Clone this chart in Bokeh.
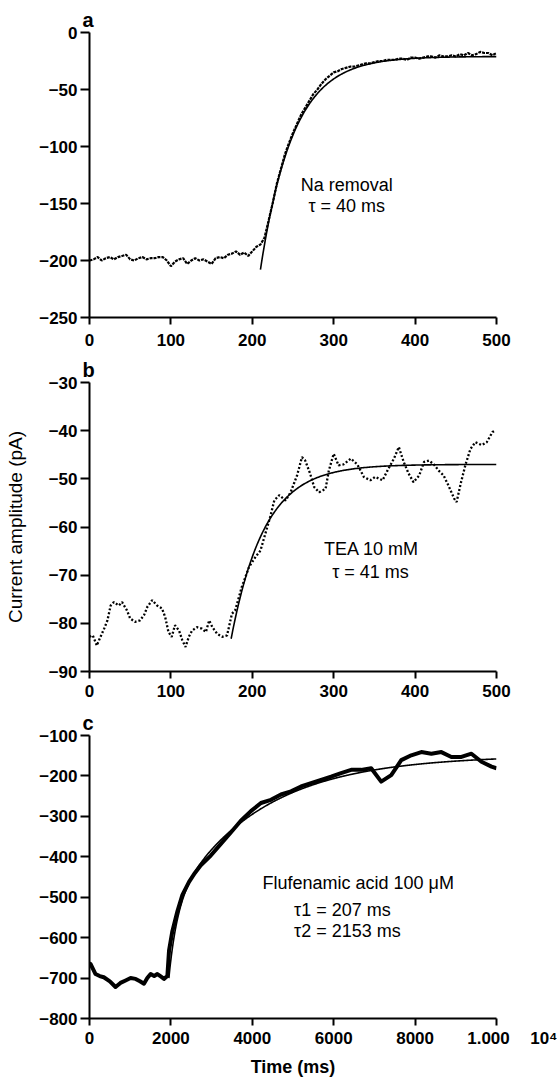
from math import exp

from bokeh.embed import file_html
from bokeh.layouts import column
from bokeh.models import FixedTicker, Label, Range1d
from bokeh.plotting import figure
from bokeh.resources import INLINE

# ---- Panel a: Na removal (time in ms, current in pA) ----
a_time = list(range(0, 505, 5))
a_current = [
    -200, -199, -197, -200, -198, -197, -199, -197, -196, -195,
    -199, -200, -198, -197, -199, -198, -198, -197, -197, -200,
    -205, -201, -199, -198, -203, -200, -198, -200, -199, -201,
    -203, -198, -197, -198, -195, -194, -192, -195, -193, -196,
    -192, -188, -186, -180, -165, -150, -133, -120, -107, -97,
    -88, -80, -72, -66, -60, -54, -50, -45, -41, -38,
    -35, -34, -32, -31, -30, -30, -29, -28, -27, -27,
    -26, -25, -25, -24, -24, -24, -23, -23, -24, -22,
    -22, -23, -22, -21, -21, -22, -20, -21, -21, -20,
    -21, -19, -20, -18, -20, -19, -17, -18, -18, -20,
    -18,
]
a_fit_start, a_fit_v0, a_fit_inf, a_tau = 210, -208, -21, 40

# ---- Panel b: TEA 10 mM ----
b_time = [
    0, 4, 9, 13, 18, 22, 26, 30, 36, 40, 46, 50, 56, 62, 67, 71, 77, 83, 89, 93,
    97, 101, 105, 110, 114, 118, 122, 126, 132, 138, 143, 147, 151, 157, 163, 169,
    175, 179, 187, 196, 204, 210, 216, 222, 227, 233, 241, 247, 255, 261, 265, 271,
    276, 282, 290, 294, 300, 306, 312, 321, 329, 337, 345, 351, 360, 366, 374, 380,
    386, 392, 398, 405, 411, 417, 423, 429, 435, 441, 448, 451, 456, 462, 468, 474,
    482, 488, 495, 499,
]
b_current = [
    -82.8, -82.5, -84.6, -83, -81.1, -79.4, -76.3, -75.6, -76.3, -75.6, -77.3, -79,
    -79.7, -79.4, -78.3, -76.6, -75.2, -76.3, -76.9, -78.7, -81.8, -82.8, -80.4,
    -81.5, -83.5, -84.9, -82.8, -81.5, -80.8, -81.1, -81.8, -79.4, -80.8, -82.2,
    -82.8, -82.5, -78, -77.3, -72.5, -68.3, -66.2, -64.9, -61.4, -57.9, -54.5,
    -53.4, -54.5, -52.8, -49.3, -45.5, -46.2, -48.9, -51.7, -52.8, -52.1, -48.3,
    -44.8, -47.2, -47, -45.8, -47, -49.6, -50.3, -49.6, -50.3, -48.3, -45.8, -43.4,
    -46.5, -48.9, -50.7, -49.3, -46.5, -46.2, -47, -48.3, -49.3, -51.4, -54.1,
    -54.8, -51, -47, -43.8, -42.4, -43, -42.4, -40.3, -39.9,
]
b_fit_start, b_fit_v0, b_fit_inf, b_tau = 174, -83.2, -47, 41

# ---- Panel c: Flufenamic acid 100 uM ----
c_time = [
    0, 25, 148, 250, 352, 500, 640, 760, 887, 1010, 1133, 1240, 1338, 1420, 1502,
    1590, 1667, 1750, 1830, 1913, 1954, 2036, 2160, 2283, 2446, 2590, 2734, 2980,
    3227, 3473, 3719, 3966, 4212, 4458, 4704, 4951, 5197, 5443, 5690, 5936, 6182,
    6429, 6675, 6921, 7167, 7414, 7660, 7906, 8153, 8399, 8645, 8892, 9138, 9384,
    9631, 9877, 10000,
]
c_current = [
    -668, -665, -690, -695, -698, -708, -722, -712, -706, -700, -702, -708, -714,
    -700, -690, -695, -690, -696, -702, -695, -632, -584, -535, -494, -462, -440,
    -421, -397, -368, -340, -311, -287, -267, -259, -246, -238, -226, -218, -210,
    -202, -193, -185, -185, -181, -214, -198, -161, -149, -141, -145, -141, -153,
    -153, -145, -165, -177, -181,
]
c_fit_start, c_fit_inf, c_amp1, c_amp2 = 1950, -149, -173, -378
c_tau1, c_tau2 = 207, 2153

a_xticks = [0, 100, 200, 300, 400, 500]
a_yticks = [0, -50, -100, -150, -200, -250]
b_xticks = [0, 100, 200, 300, 400, 500]
b_yticks = [-30, -40, -50, -60, -70, -80, -90]
c_xticks = [0, 2000, 4000, 6000, 8000, 10000]
c_yticks = [-100, -200, -300, -400, -500, -600, -700, -800]

FONT = "Liberation Sans"
MINUS = "\u2212"
EM = "\u2003"
THIN = "\u2009"


def tick_text(v):
    return str(v).replace("-", MINUS)


def make_panel(letter, x_end, y_lo, y_hi, xticks, yticks, height, top, bottom, x_standoff):
    p = figure(
        width=557, height=height, title=letter,
        x_range=Range1d(0, x_end), y_range=Range1d(y_lo, y_hi),
        output_backend="svg", toolbar_location=None,
        min_border_left=89, min_border_right=61,
        min_border_top=top, min_border_bottom=bottom,
    )
    p.title.align = "left"
    p.title.offset = -7
    p.title.standoff = 3
    p.title.text_font = FONT
    p.title.text_font_size = "20px"
    p.title.text_font_style = "bold"
    p.title.text_color = "black"
    p.grid.visible = False
    p.outline_line_color = None
    p.xaxis.ticker = FixedTicker(ticks=xticks, minor_ticks=[])
    p.yaxis.ticker = FixedTicker(ticks=yticks, minor_ticks=[])
    p.xaxis.major_label_overrides = {t: tick_text(t) for t in xticks}
    p.yaxis.major_label_overrides = {t: tick_text(t) for t in yticks}
    for ax in (p.xaxis, p.yaxis):
        ax.axis_line_width = 2
        ax.axis_line_color = "black"
        ax.major_tick_line_width = 2
        ax.major_tick_line_color = "black"
        ax.major_tick_in = 0
        ax.minor_tick_line_color = None
        ax.major_label_text_font = FONT
        ax.major_label_text_font_style = "bold"
        ax.major_label_text_font_size = "17px"
        ax.major_label_text_color = "black"
        ax.axis_label_text_color = "black"
        ax.axis_label_text_font = FONT
    p.yaxis.major_tick_out = 9
    p.yaxis.major_label_standoff = 3
    p.xaxis.major_tick_out = 7
    p.xaxis.major_label_standoff = x_standoff
    return p


def add_text(p, x, y, text, align="center"):
    p.add_layout(Label(
        x=x, y=y, text=text, text_font=FONT, text_font_size="18px",
        text_align=align, text_baseline="middle", text_color="black",
    ))


def mono_fit(start, v0, vinf, tau, end, step):
    ts = list(range(start, end + 1, step))
    return ts, [vinf + (v0 - vinf) * exp(-(t - start) / tau) for t in ts]


# ---- a ----
pa = make_panel("a", 500, -250, 0, a_xticks, a_yticks, 353, 32, 36, 9)
pa.line(a_time, a_current, line_color="black", line_width=2.2, line_dash="3 1")
fa_t, fa_v = mono_fit(a_fit_start, a_fit_v0, a_fit_inf, a_tau, 500, 1)
pa.line(fa_t, fa_v, line_color="black", line_width=1.6)
add_text(pa, 316, -134.2, "Na removal")
add_text(pa, 316, -151.8, "\u03c4 = 40 ms")

# ---- b ----
pb = make_panel("b", 500, -90, -30, b_xticks, b_yticks, 350, 29, 32, 6)
pb.yaxis.axis_label = "Current amplitude (pA)"
pb.yaxis.axis_label_text_font_style = "normal"
pb.yaxis.axis_label_text_font_size = "19px"
pb.yaxis.axis_label_standoff = 20
pb.line(b_time, b_current, line_color="black", line_width=2.3, line_dash="2 2")
fb_t, fb_v = mono_fit(b_fit_start, b_fit_v0, b_fit_inf, b_tau, 500, 1)
pb.line(fb_t, fb_v, line_color="black", line_width=1.6)
add_text(pb, 346.4, -64.6, "TEA 10 mM")
add_text(pb, 345.2, -69.4, "\u03c4 = 41 ms")

# ---- c ----
pc = make_panel("c", 10000, -800, -100, c_xticks, c_yticks, 376, 32, 57, 3)
c_labels = {t: tick_text(t) for t in c_xticks}
c_labels[10000] = EM * 2 + "1.000" + EM + THIN + "10\u2074"
pc.xaxis.major_label_overrides = c_labels
pc.xaxis.axis_label = "Time (ms)"
pc.xaxis.axis_label_text_font_style = "bold"
pc.xaxis.axis_label_text_font_size = "18px"
pc.xaxis.axis_label_standoff = 6
pc.line(c_time, c_current, line_color="black", line_width=4, line_join="round")
fc_t = list(range(c_fit_start, 10001, 10))
fc_v = [c_fit_inf + c_amp1 * exp(-(t - c_fit_start) / c_tau1)
        + c_amp2 * exp(-(t - c_fit_start) / c_tau2) for t in fc_t]
pc.line(fc_t, fc_v, line_color="black", line_width=1.6)
add_text(pc, 6601, -465.9, "Flufenamic acid 100 \u03bcM")
add_text(pc, 5025, -531.7, "\u03c41 = 207 ms", align="left")
add_text(pc, 5025, -582.9, "\u03c42 = 2153 ms", align="left")

layout = column(pa, pb, pc, spacing=0)
open("out.html", "w").write(file_html(layout, INLINE))
